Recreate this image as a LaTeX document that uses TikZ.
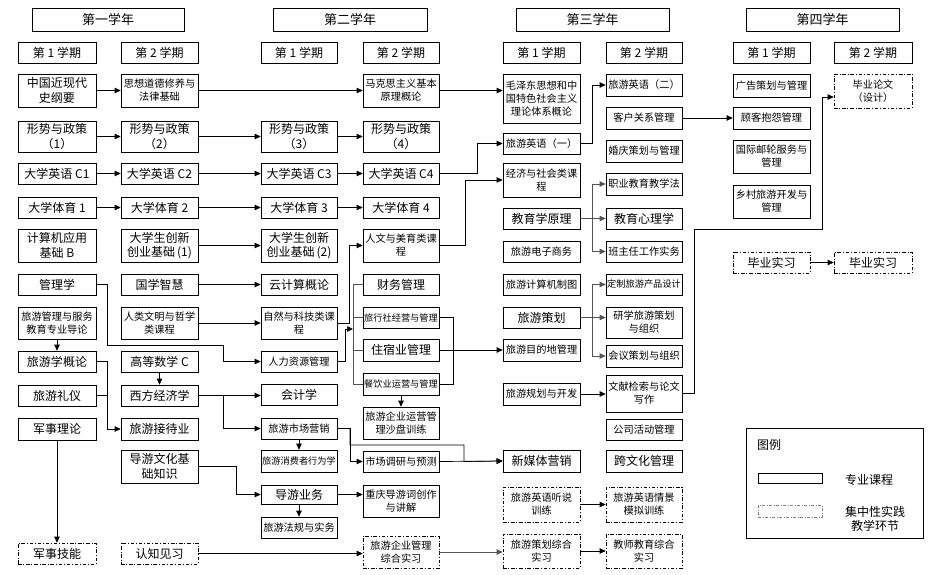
\documentclass[tikz,border=0pt]{standalone}
\usepackage{fontspec}
\setmainfont{Noto Sans CJK SC}
\usetikzlibrary{arrows.meta,calc}
\newcommand\myHead{\fontsize{13}{15}\selectfont}
\newcommand\myBig{\fontsize{12}{14.5}\selectfont}
\newcommand\mySmall{\fontsize{10.2}{13}\selectfont}
\newcommand\myTiny{\fontsize{9.2}{12}\selectfont}
\tikzset{
  box/.style={draw, line width=0.7pt, inner sep=0.5pt, align=center, font=\myBig},
  dbox/.style={box, dash pattern=on 3.5pt off 1.8pt on 1pt off 1.8pt},
  hd/.style={font=\myHead},
  sm/.style={font=\mySmall},
  tn/.style={font=\myTiny},
  arr/.style={line width=0.7pt, -{Triangle[length=6pt,width=5.5pt]}},
  ln/.style={line width=0.7pt},
  garr/.style={arr, draw=gray!65!black},
  gln/.style={ln, draw=gray!65!black}
}
\newcommand\mybox[7][]{\node[box,#1,minimum width={(#5-#3)*1pt},minimum height={(#6-#4)*1pt}] (#2) at ({(#3+#5)/2},{(#4+#6)/2}) {#7};}
\begin{document}
\begin{tikzpicture}[x=1pt,y=-1pt]
\useasboundingbox (0,0) rectangle (934,575);
% headers
\mybox[hd]{yr1}{32}{8}{184}{31}{第一学年}
\mybox[hd]{yr2}{273}{8}{427}{31}{第二学年}
\mybox[hd]{yr3}{516}{8}{669}{31}{第三学年}
\mybox[hd]{yr4}{746}{8}{899}{31}{第四学年}
\mybox{s11}{18}{42}{96}{63}{第 1 学期}
\mybox{s12}{121}{42}{198}{63}{第 2 学期}
\mybox{s21}{261}{42}{337}{63}{第 1 学期}
\mybox{s22}{363}{42}{439}{63}{第 2 学期}
\mybox{s31}{503}{42}{580}{63}{第 1 学期}
\mybox{s32}{606}{42}{682}{63}{第 2 学期}
\mybox{s41}{733}{42}{810}{63}{第 1 学期}
\mybox{s42}{834}{42}{912}{63}{第 2 学期}
% year 1 term 1
\mybox{a1}{18}{74}{96}{107}{中国近现代\\史纲要}
\mybox{a2}{18}{121}{96}{152}{形势与政策\\（1）}
\mybox{a3}{18}{163}{96}{184}{大学英语 C1}
\mybox{a4}{18}{197}{96}{218}{大学体育 1}
\mybox{a5}{18}{229}{96}{262}{计算机应用\\基础 B}
\mybox{a6}{18}{274}{96}{295}{管理学}
\mybox[sm]{a7}{18}{307}{96}{339}{旅游管理与服务\\教育专业导论}
\mybox{a8}{18}{351}{96}{372}{旅游学概论}
\mybox{a9}{18}{385}{96}{406}{旅游礼仪}
\mybox{a10}{18}{418}{96}{440}{军事理论}
\mybox[dbox]{a11}{18}{543}{96}{564}{军事技能}
% year 1 term 2
\mybox[sm]{b1}{121}{74}{198}{107}{思想道德修养与\\法律基础}
\mybox{b2}{121}{121}{198}{152}{形势与政策\\（2）}
\mybox{b3}{121}{163}{198}{184}{大学英语 C2}
\mybox{b4}{121}{197}{198}{218}{大学体育 2}
\mybox{b5}{121}{229}{198}{262}{大学生创新\\创业基础\,(1)}
\mybox{b6}{121}{274}{198}{295}{国学智慧}
\mybox[sm]{b7}{121}{307}{198}{339}{人类文明与哲学\\类课程}
\mybox{b8}{121}{351}{198}{372}{高等数学 C}
\mybox{b9}{121}{385}{198}{406}{西方经济学}
\mybox{b10}{121}{418}{198}{440}{旅游接待业}
\mybox{b11}{121}{450}{198}{483}{导游文化基\\础知识}
\mybox[dbox]{b12}{121}{543}{198}{564}{认知见习}
% year 2 term 1
\mybox{c2}{261}{121}{337}{152}{形势与政策\\（3）}
\mybox{c3}{261}{163}{337}{184}{大学英语 C3}
\mybox{c4}{261}{197}{337}{218}{大学体育 3}
\mybox{c5}{261}{229}{337}{262}{大学生创新\\创业基础\,(2)}
\mybox{c6}{261}{274}{337}{295}{云计算概论}
\mybox[sm]{c7}{261}{307}{337}{339}{自然与科技类课\\程}
\mybox[sm]{c8}{261}{351}{337}{372}{人力资源管理}
\mybox{c9}{261}{384}{337}{405}{会计学}
\mybox[sm]{c10}{261}{418}{337}{439}{旅游市场营销}
\mybox[tn]{c11}{261}{450}{337}{472}{旅游消费者行为学}
\mybox{c12}{261}{485}{337}{504}{导游业务}
\mybox[sm]{c13}{261}{517}{337}{538}{旅游法规与实务}
% year 2 term 2
\mybox[sm]{d1}{363}{74}{439}{107}{马克思主义基本\\原理概论}
\mybox{d2}{363}{121}{439}{152}{形势与政策\\（4）}
\mybox{d3}{363}{163}{439}{184}{大学英语 C4}
\mybox{d4}{363}{197}{439}{218}{大学体育 4}
\mybox[sm]{d5}{363}{229}{439}{262}{人文与美育类课\\程}
\mybox{d6}{363}{274}{439}{295}{财务管理}
\mybox[tn]{d7}{363}{307}{439}{328}{旅行社经营与管理}
\mybox{d8}{363}{339}{439}{361}{住宿业管理}
\mybox[tn]{d9}{363}{373}{439}{395}{餐饮业运营与管理}
\mybox[sm]{d10}{363}{407}{439}{439}{旅游企业运营管\\理沙盘训练}
\mybox[sm]{d11}{363}{451}{439}{472}{市场调研与预测}
\mybox[sm]{d12}{363}{485}{439}{517}{重庆导游词创作\\与讲解}
\mybox[dbox,sm]{d13}{363}{536}{439}{568}{旅游企业管理\\综合实习}
% year 3 term 1
\mybox[sm]{e1}{503}{74}{580}{123}{毛泽东思想和中\\国特色社会主义\\理论体系概论}
\mybox[sm]{e2}{503}{133}{580}{154}{旅游英语（一）}
\mybox[sm]{e3}{503}{163}{580}{197}{经济与社会类课\\程}
\mybox{e4}{503}{208}{580}{229}{教育学原理}
\mybox[sm]{e5}{503}{241}{580}{262}{旅游电子商务}
\mybox[sm]{e6}{503}{274}{580}{295}{旅游计算机制图}
\mybox{e7}{503}{307}{580}{328}{旅游策划}
\mybox[sm]{e8}{503}{339}{580}{361}{旅游目的地管理}
\mybox[sm]{e9}{503}{383}{580}{405}{旅游规划与开发}
\mybox{e10}{503}{450}{580}{472}{新媒体营销}
\mybox[dbox,sm]{e11}{503}{487}{580}{522}{旅游英语听说\\训练}
\mybox[dbox,sm]{e12}{503}{534}{580}{568}{旅游策划综合\\实习}
% year 3 term 2
\mybox[sm]{f1}{606}{74}{682}{96}{旅游英语（二）}
\mybox[sm]{f2}{606}{107}{682}{129}{客户关系管理}
\mybox[sm]{f3}{606}{140}{682}{162}{婚庆策划与管理}
\mybox[sm]{f4}{606}{173}{682}{195}{职业教育教学法}
\mybox{f5}{606}{208}{682}{229}{教育心理学}
\mybox[sm]{f6}{606}{241}{682}{262}{班主任工作实务}
\mybox[tn]{f7}{606}{274}{682}{295}{定制旅游产品设计}
\mybox[sm]{f8}{606}{307}{682}{338}{研学旅游策划\\与组织}
\mybox[sm]{f9}{606}{345}{682}{367}{会议策划与组织}
\mybox[sm]{f10}{606}{375}{682}{412}{文献检索与论文\\写作}
\mybox[sm]{f11}{606}{419}{682}{440}{公司活动管理}
\mybox{f12}{606}{450}{682}{472}{跨文化管理}
\mybox[dbox,sm]{f13}{606}{487}{682}{522}{旅游英语情景\\模拟训练}
\mybox[dbox,sm]{f14}{606}{534}{682}{568}{教师教育综合\\实习}
% year 4
\mybox[sm]{g1}{733}{74}{810}{97}{广告策划与管理}
\mybox[sm]{g2}{733}{107}{810}{129}{顾客抱怨管理}
\mybox[sm]{g3}{733}{140}{810}{173}{国际邮轮服务与\\管理}
\mybox[sm]{g4}{733}{185}{810}{218}{乡村旅游开发与\\管理}
\mybox[dbox]{g5}{733}{252}{810}{273}{毕业实习}
\mybox[dbox,sm]{h1}{834}{74}{912}{108}{毕业论文\\（设计）}
\mybox[dbox]{h2}{834}{252}{912}{273}{毕业实习}
% legend
\node[draw,ln,minimum width=177pt,minimum height=110pt,inner sep=0] (lg) at (834.5,483) {};
\node[font=\myBig,anchor=west,inner sep=0] (lgt) at (757,445) {图例};
\node[draw,line width=0.6pt,minimum width=64pt,minimum height=10pt,inner sep=0] (lgs) at (790,478) {};
\node[font=\myBig,inner sep=0] (lgst) at (869,480) {专业课程};
\node[draw=gray,line width=0.6pt,dash pattern=on 3pt off 1.5pt on 1pt off 1.5pt,minimum width=64pt,minimum height=12pt,inner sep=0] (lgd) at (790,511) {};
\node[font=\myBig,align=center,inner sep=0] (lgdt) at (875,519) {集中性实践\\教学环节};
% connectors
\draw[arr] (a1.east) -- (b1.west);
\draw[arr] (b1.east) -- (d1.west);
\draw[arr] (d1.east) -- (e1.west |- d1.east);
\foreach \p/\q in {a2/b2,b2/c2,c2/d2,a3/b3,b3/c3,c3/d3,a4/b4,b4/c4,c4/d4,b5/c5,b6/c6,b7/c7}
  \draw[arr] (\p.east) -- (\q.west);
\draw[arr] (a6.east) -| (107,345) -| (223,361.5) -- (c8.west);
\draw[arr] (a7.south) -- (a8.north);
\draw[arr] (a8.east) -| (107,429) -- (b10.west);
\draw[ln] (a9.east) -- (107,395.5);
\draw[arr] (b8.south) -- (b9.north);
\draw[arr] (b9.east) -- (c9.west |- b9.east);
\draw[arr] (b9.east) -| (223,428.5) -- (c10.west);
\draw[arr] (b11.east) -| (236,494.5) -- (c12.west);
\draw[arr] (a10.south) -- (a11.north);
\draw[arr] (b12.east) -- (d13.west |- b12.east);
\draw[arr] (d3.east) -| (477,143.5) -- (e2.west);
\draw[arr] (d5.east) -| (465,180) -- (e3.west);
\draw[arr] (c7.east) -| (349,245.5) -- (d5.west);
\coordinate (busT) at (353,284.5);
\coordinate (busB) at (353,384);
\coordinate (busM) at (353,329);
\draw[gln] (d6.west) -- (busT) -- (busB) -- (d9.west);
\draw[gln] (d7.west) -- (d7.west -| busT);
\draw[gln] (d8.west) -- (d8.west -| busT);
\draw[arr] (c8.east) -| (345,329) -- (busM);
\draw[ln] (d7.east) -| (453,384) -- (d9.east);
\draw[arr] (d8.east) -- (e8.west);
\draw[arr] (d9.south) -- (d10.north);
\draw[arr] (c10.east) -| (350,461.5) -- (d11.west);
\draw[arr] (c10.east) -| (350,445) -| (464,461.5) -- (e10.west);
\draw[arr] (d11.east) -- (e10.west);
\draw[arr] (c10.south) -- (c11.north);
\draw[arr] (c12.east) -- (d12.west |- c12.east);
\draw[arr] (c12.south) -- (c13.north);
\draw[garr] (d13.east) -- (e12.west |- d13.east);
\draw[arr] (e2.east) -| (592,85) -- (f1.west);
\draw[arr] (f2.east) -- (g2.west);
\draw[garr] (e4.east) -- (f5.west);
\draw[garr] (e4.east) -| (592,184) -- (f4.west);
\draw[garr] (e4.east) -| (592,251.5) -- (f6.west);
\draw[garr] (e7.east) -| (592,284.5) -- (f7.west);
\draw[garr] (e7.east) -- (f8.west |- e7.east);
\draw[garr] (e7.east) -| (592,356) -- (f9.west);
\draw[arr] (e9.east) -- (f10.west |- e9.east);
\coordinate (thA) at (822,97);
\draw[arr] (f10.east) -| (694,229) -| (thA) -- (h1.west |- thA);
\draw[arr] (e11.east) -- (f13.west);
\draw[arr] (e12.east) -- (f14.west);
\draw[arr] (g5.east) -- (h2.west);
\end{tikzpicture}
\end{document}
